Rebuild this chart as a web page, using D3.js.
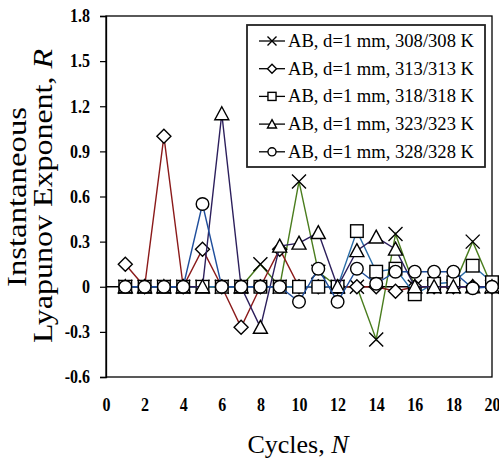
<!DOCTYPE html>
<html>
<head>
<meta charset="utf-8">
<script src="https://cdn.jsdelivr.net/npm/d3@7"></script>
<style>
  body { margin: 0; background: #fff; }
  svg { display: block; font-family: "Liberation Serif", "Times New Roman", serif; }
</style>
</head>
<body>
<svg id="chart" width="499" height="461"></svg>
<script>
const cycles = [1, 2, 3, 4, 5, 6, 7, 8, 9, 10, 11, 12, 13, 14, 15, 16, 17, 18, 19, 20];
const r308 = [0, 0, 0, 0, 0, 0, 0, 0.15, 0, 0.7, 0.1, 0, 0, -0.35, 0.35, 0, 0, 0, 0.3, 0];
const r313 = [0.15, 0, 1.0, 0, 0.25, 0, -0.27, 0, 0.25, 0, 0, 0, 0, 0, -0.03, 0, 0, 0, 0, 0];
const r318 = [0, 0, 0, 0, 0, 0, 0, 0, 0, 0, 0, 0, 0.37, 0.1, 0.12, -0.05, 0.02, 0.03, 0.14, 0.03];
const r323 = [0, 0, 0, 0, 0, 1.15, 0, -0.27, 0.27, 0.29, 0.36, 0, 0.24, 0.33, 0.25, 0, 0, 0, 0, 0];
const r328 = [0, 0, 0, 0, 0.55, 0, 0, 0, 0, -0.1, 0.12, -0.1, 0.12, 0.02, 0.1, 0.1, 0.1, 0.1, -0.01, 0];

const seriesNames = ["AB, d=1 mm, 308/308 K", "AB, d=1 mm, 313/313 K", "AB, d=1 mm, 318/318 K",
                     "AB, d=1 mm, 323/323 K", "AB, d=1 mm, 328/328 K"];
const seriesValues = [r308, r313, r318, r323, r328];
const seriesColors = ["#4a7d1e", "#8b1a1a", "#2b6ea8", "#2c1f5c", "#1f4e9c"];
const seriesMarkers = ["x", "diamond", "square", "triangle", "circle"];

const xTicks = [0, 2, 4, 6, 8, 10, 12, 14, 16, 18, 20];
const yTicks = [-0.6, -0.3, 0, 0.3, 0.6, 0.9, 1.2, 1.5, 1.8];
const yTickLabels = ["-0.6", "-0.3", "0", "0.3", "0.6", "0.9", "1.2", "1.5", "1.8"];

const svg = d3.select("#chart");
const plotL = 106, plotR = 492, plotT = 16, plotB = 377;

const x = d3.scaleLinear().domain([0, 20]).range([plotL, plotR]);
const y = d3.scaleLinear().domain([-0.6, 1.8]).range([plotB, plotT]);

// frame
svg.append("rect")
  .attr("x", plotL).attr("y", plotT)
  .attr("width", plotR - plotL).attr("height", plotB - plotT)
  .attr("fill", "none").attr("stroke", "#000").attr("stroke-width", 1.3);

// y axis
const yAxis = svg.append("g")
  .attr("transform", `translate(${plotL},0)`)
  .call(d3.axisLeft(y).tickValues(yTicks).tickSize(6).tickPadding(10)
    .tickFormat((d, i) => yTickLabels[i]));
yAxis.select(".domain").attr("stroke-width", 1.3);
yAxis.selectAll(".tick line").attr("stroke-width", 1.2);
yAxis.selectAll(".tick text")
  .attr("font-size", 16).attr("font-weight", "bold")
  .attr("font-family", "Liberation Serif")
  .attr("fill", "#000")
  .attr("dy", "0.3em")
  .attr("transform", "scale(1,1.2)");

// x axis labels (no tick marks)
const xAxis = svg.append("g")
  .attr("transform", `translate(0,${plotB})`)
  .call(d3.axisBottom(x).tickValues(xTicks).tickSize(0).tickPadding(20));
xAxis.select(".domain").remove();
xAxis.selectAll(".tick text")
  .attr("font-size", 16).attr("font-weight", "bold")
  .attr("font-family", "Liberation Serif")
  .attr("fill", "#000")
  .attr("dy", "0.5em")
  .attr("transform", "scale(1,1.2)");

// zero line
svg.append("line")
  .attr("x1", plotL).attr("x2", plotR)
  .attr("y1", y(0)).attr("y2", y(0))
  .attr("stroke", "#000").attr("stroke-width", 1.3);

function drawMarker(g, type, cx, cy, s) {
  const h = s / 2;
  if (type === "x") {
    g.append("path")
      .attr("d", `M${cx - h},${cy - h}L${cx + h},${cy + h}M${cx - h},${cy + h}L${cx + h},${cy - h}`)
      .attr("stroke", "#000").attr("stroke-width", 1.4).attr("fill", "none");
  } else if (type === "diamond") {
    g.append("path")
      .attr("d", `M${cx},${cy - h}L${cx + h},${cy}L${cx},${cy + h}L${cx - h},${cy}Z`)
      .attr("stroke", "#000").attr("stroke-width", 1.4).attr("fill", "#fff");
  } else if (type === "square") {
    g.append("rect")
      .attr("x", cx - h * 0.9).attr("y", cy - h * 0.9)
      .attr("width", s * 0.9).attr("height", s * 0.9)
      .attr("stroke", "#000").attr("stroke-width", 1.4).attr("fill", "#fff");
  } else if (type === "triangle") {
    g.append("path")
      .attr("d", `M${cx},${cy - h}L${cx + h},${cy + h * 0.85}L${cx - h},${cy + h * 0.85}Z`)
      .attr("stroke", "#000").attr("stroke-width", 1.4).attr("fill", "#fff");
  } else {
    g.append("circle")
      .attr("cx", cx).attr("cy", cy).attr("r", h * 0.9)
      .attr("stroke", "#000").attr("stroke-width", 1.4).attr("fill", "#fff");
  }
}

const line = d3.line().x((d, i) => x(cycles[i])).y(d => y(d));

seriesValues.forEach((vals, k) => {
  const g = svg.append("g");
  g.append("path")
    .attr("d", line(vals))
    .attr("fill", "none")
    .attr("stroke", seriesColors[k])
    .attr("stroke-width", 1.4);
  vals.forEach((v, i) => drawMarker(g, seriesMarkers[k], x(cycles[i]), y(v), 14));
});

// legend
const legend = svg.append("g");
legend.append("rect")
  .attr("x", 247).attr("y", 25).attr("width", 238).attr("height", 142)
  .attr("fill", "#fff").attr("stroke", "#222").attr("stroke-width", 1.8);
seriesNames.forEach((name, k) => {
  const ly = 41 + k * 27.7;
  legend.append("line")
    .attr("x1", 259).attr("x2", 285).attr("y1", ly).attr("y2", ly)
    .attr("stroke", "#000").attr("stroke-width", 1.3);
  drawMarker(legend, seriesMarkers[k], 272, ly, 9);
  legend.append("text")
    .attr("x", 288).attr("y", ly + 6)
    .attr("font-size", 19)
    .attr("textLength", 186).attr("lengthAdjust", "spacingAndGlyphs")
    .attr("fill", "#000")
    .text(name);
});

// axis titles
svg.append("text")
  .attr("x", 298).attr("y", 453)
  .attr("text-anchor", "middle")
  .attr("font-size", 26)
  .html('Cycles, <tspan font-style="italic">N</tspan>');

svg.append("text")
  .attr("transform", "translate(26,197) rotate(-90)")
  .attr("text-anchor", "middle")
  .attr("font-size", 27)
  .attr("textLength", 180).attr("lengthAdjust", "spacingAndGlyphs")
  .text("Instantaneous");

svg.append("text")
  .attr("transform", "translate(52,196) rotate(-90)")
  .attr("text-anchor", "middle")
  .attr("font-size", 27)
  .attr("textLength", 294).attr("lengthAdjust", "spacingAndGlyphs")
  .html('Lyapunov Exponent, <tspan font-style="italic">R</tspan>');
</script>
</body>
</html>
